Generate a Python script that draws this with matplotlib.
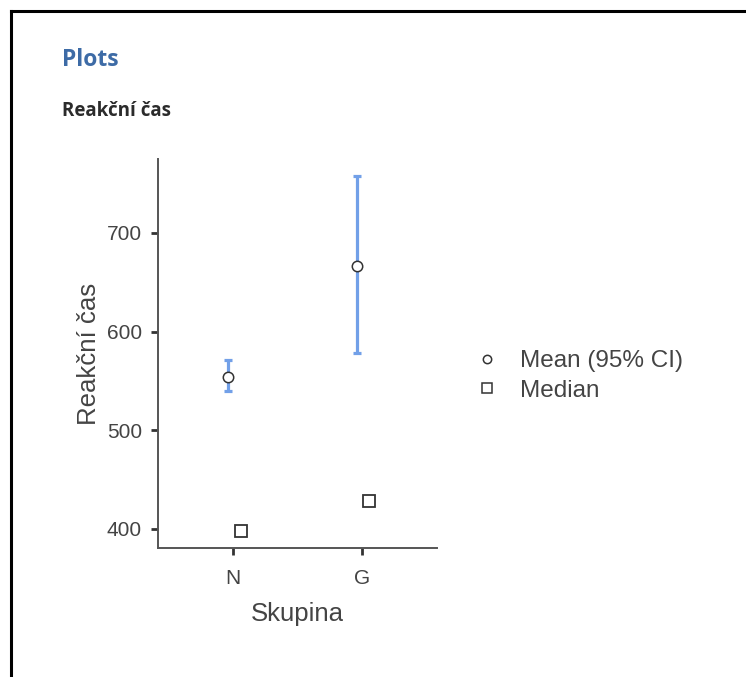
import matplotlib
matplotlib.use("Agg")
import matplotlib.pyplot as plt
from matplotlib.lines import Line2D

# group summaries for reaction time
groups = ["N", "G"]
means = [554, 667]
ci_low = [540, 578]
ci_high = [571, 758]
medians = [398, 428]

W, H = 746, 677
plt.rcParams["font.family"] = ["Liberation Sans", "DejaVu Sans"]

fig = plt.figure(figsize=(W / 100, H / 100), dpi=100)
fig.patch.set_facecolor("white")

def px(x, y):
    return x / W, 1 - y / H

# page frame
fig.add_artist(Line2D([10.5 / W, 10.5 / W], [0, 1 - 11 / H], color="black", lw=2.2, transform=fig.transFigure))
fig.add_artist(Line2D([10.5 / W, 1], [1 - 11 / H, 1 - 11 / H], color="black", lw=2.2, transform=fig.transFigure))

fig.text(*px(62, 60), "Plots", color="#3d6ba6", fontsize=16.5, fontweight="bold",
         family=["Open Sans", "DejaVu Sans"], va="center")
fig.text(*px(62, 111), "Reakční čas", color="#2b2b2b", fontsize=13.5, fontweight="bold",
         family=["Open Sans", "DejaVu Sans"], va="center")

left, top, right, bottom = 158, 159, 437, 548
ax = fig.add_axes([left / W, 1 - bottom / H, (right - left) / W, (bottom - top) / H])

x = list(range(len(groups)))
xm = [i - 0.04 for i in x]
xd = [i + 0.06 for i in x]
yerr = [[m - lo for m, lo in zip(means, ci_low)], [hi - m for m, hi in zip(means, ci_high)]]

ax.errorbar(xm, means, yerr=yerr, fmt="none", ecolor="#72a0e8", elinewidth=2.3,
            capsize=3, capthick=2.3, zorder=2)
ax.plot(xm, means, "o", ms=7.5, mfc="white", mec="#333333", mew=1.1, zorder=3)
ax.plot(xd, medians, "s", ms=8.5, mfc="white", mec="#333333", mew=1.3, zorder=3)

ax.set_xlim(-0.586, 1.586)
ax.set_ylim(380.7, 775)
ax.set_xticks(x)
ax.set_xticklabels(groups)
ax.set_yticks([400, 500, 600, 700])

for s in ["top", "right"]:
    ax.spines[s].set_visible(False)
for s in ["left", "bottom"]:
    ax.spines[s].set_color("#555555")
    ax.spines[s].set_linewidth(1.4)
ax.tick_params(axis="both", length=5, width=2, color="#333333", labelsize=15,
               labelcolor="#444444")
ax.tick_params(axis="x", pad=10)
ax.tick_params(axis="y", pad=6.5)

ax.set_xlabel("Skupina", fontsize=18.5, color="#444444", labelpad=10)
ax.set_ylabel("Reakční čas", fontsize=18.5, color="#444444", labelpad=4.5)

handles = [
    Line2D([], [], ls="none", marker="o", ms=6, mfc="white", mec="#333333", mew=1.1),
    Line2D([], [], ls="none", marker="s", ms=6.5, mfc="white", mec="#333333", mew=1.1),
]
ax.legend(handles, ["Mean (95% CI)", "Median"], loc="center left",
          bbox_to_anchor=(451 / W, 1 - 376 / H), bbox_transform=fig.transFigure,
          frameon=False, fontsize=17.5, handletextpad=0.75, labelspacing=0.32,
          labelcolor="#444444", handlelength=1.2)

fig.savefig("out.png", dpi=100, facecolor="white")
